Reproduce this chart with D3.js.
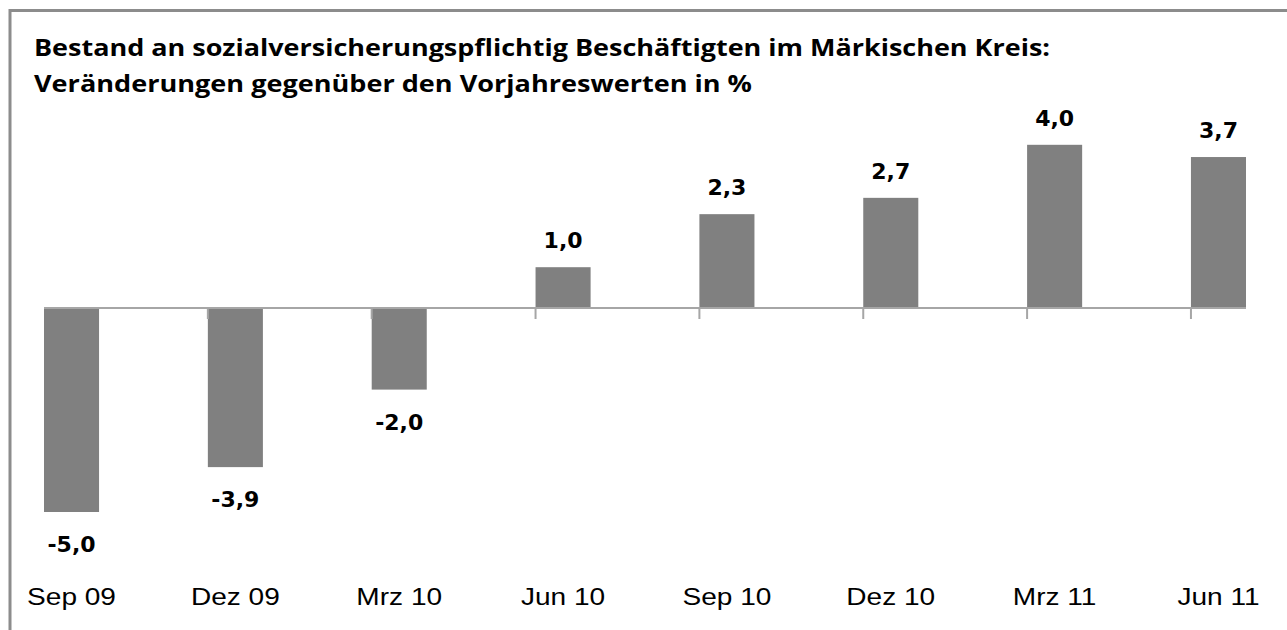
<!DOCTYPE html>
<html lang="de">
<head>
<meta charset="utf-8">
<script src="https://d3js.org/d3.v7.min.js"></script>
<style>
  body { margin: 0; background: #fff; }
  svg { display: block; }
</style>
</head>
<body>
<svg width="1287" height="630"></svg>
<script>
  // data
  var categories = ["Sep 09", "Dez 09", "Mrz 10", "Jun 10", "Sep 10", "Dez 10", "Mrz 11", "Jun 11"];
  var values = [-5.0, -3.9, -2.0, 1.0, 2.3, 2.7, 4.0, 3.7];
  var titleLines = [
    "Bestand an sozialversicherungspflichtig Beschäftigten im Märkischen Kreis:",
    "Veränderungen gegenüber den Vorjahreswerten in %"
  ];

  var svg = d3.select("svg");

  // frame (only top and left edge are inside the picture)
  svg.append("rect")
    .attr("x", 10).attr("y", 10.5)
    .attr("width", 1400).attr("height", 800)
    .attr("fill", "none")
    .attr("stroke", "#8c8c8c")
    .attr("stroke-width", 3);

  // title
  var titleWidths = [1016, 718];
  svg.selectAll(".title")
    .data(titleLines)
    .enter()
    .append("text")
    .attr("class", "title")
    .attr("x", 34)
    .attr("y", function(d, i) { return 56 + i * 36; })
    .attr("textLength", function(d, i) { return titleWidths[i]; })
    .attr("lengthAdjust", "spacingAndGlyphs")
    .style("font-family", "'Open Sans', sans-serif")
    .style("font-weight", "bold")
    .style("font-size", "23px")
    .attr("fill", "#000")
    .text(function(d) { return d; });

  // scales
  var x = d3.scaleBand()
    .domain(categories)
    .range([44, 1246])
    .paddingInner(0.664)
    .paddingOuter(0);

  var y = d3.scaleLinear()
    .domain([-6, 4.5])
    .range([552.8, 124.4]);

  var fmt = d3.formatLocale({ decimal: ",", thousands: ".", grouping: [3], currency: ["", " €"], minus: "-" }).format(".1f");

  // bars
  svg.selectAll(".bar")
    .data(values)
    .enter()
    .append("rect")
    .attr("class", "bar")
    .attr("x", function(d, i) { return x(categories[i]); })
    .attr("y", function(d) { return y(Math.max(0, d)); })
    .attr("width", x.bandwidth())
    .attr("height", function(d) { return Math.abs(y(d) - y(0)); })
    .attr("fill", "#808080");

  // zero axis line with ticks at the left edge of each bar
  var axisG = svg.append("g").attr("transform", "translate(0," + y(0) + ")");
  axisG.append("line")
    .attr("x1", x.range()[0]).attr("x2", x.range()[1])
    .attr("stroke", "#a6a6a6").attr("stroke-width", 2);
  axisG.selectAll(".tick")
    .data(categories.slice(1))
    .enter()
    .append("line")
    .attr("x1", function(d) { return x(d); })
    .attr("x2", function(d) { return x(d); })
    .attr("y1", 0).attr("y2", 11)
    .attr("stroke", "#a6a6a6").attr("stroke-width", 2);

  // value labels
  svg.selectAll(".vlabel")
    .data(values)
    .enter()
    .append("text")
    .attr("class", "vlabel")
    .attr("x", function(d, i) { return x(categories[i]) + x.bandwidth() / 2; })
    .attr("y", function(d) { return d >= 0 ? y(d) - 19 : y(d) + 40; })
    .attr("text-anchor", "middle")
    .style("font-family", "'DejaVu Sans', sans-serif")
    .style("font-weight", "bold")
    .style("font-size", "22px")
    .attr("fill", "#000")
    .text(function(d) { return fmt(d); });

  // category labels (horizontally stretched like the original)
  svg.selectAll(".clabel")
    .data(categories)
    .enter()
    .append("text")
    .attr("class", "clabel")
    .attr("transform", function(d) {
      return "translate(" + (x(d) + x.bandwidth() / 2) + ",605) scale(1.22,1)";
    })
    .attr("text-anchor", "middle")
    .style("font-family", "'Liberation Sans', Arial, sans-serif")
    .style("font-size", "23px")
    .attr("fill", "#000")
    .text(function(d) { return d; });
</script>
</body>
</html>
